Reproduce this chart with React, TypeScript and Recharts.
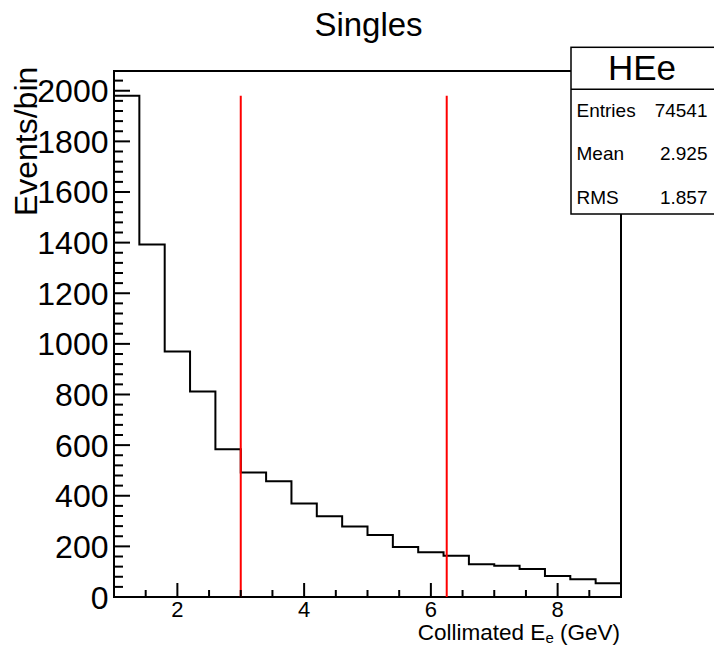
import React from 'react';
import {
  ComposedChart,
  Line,
  XAxis,
  YAxis,
  ReferenceLine,
  ReferenceArea,
} from 'recharts';

// histogram "HEe": 20 bins of 0.4 GeV from 1 to 9
const binEdges = [1.0, 1.4, 1.8, 2.2, 2.6, 3.0, 3.4, 3.8, 4.2, 4.6, 5.0, 5.4, 5.8, 6.2, 6.6, 7.0, 7.4, 7.8, 8.2, 8.6, 9.0];
const binCounts = [1980, 1393, 970, 812, 584, 492, 457, 369, 319, 279, 245, 198, 177, 163, 129, 123, 111, 83, 70, 54];

// selection cuts drawn in red
const cutPositions = [3.0, 6.25];
const cutHeight = 1980;

const yMajorTicks = [0, 200, 400, 600, 800, 1000, 1200, 1400, 1600, 1800, 2000];
const xMajorTicks = [2, 4, 6, 8];

const statsRows = [
  ['Entries', '74541'],
  ['Mean', '2.925'],
  ['RMS', '1.857'],
];

const WIDTH = 714;
const HEIGHT = 647;
const PLOT_LEFT = 114;
const PLOT_RIGHT = 621;
const PLOT_TOP = 71;
const PLOT_BOTTOM = 597;
const X_MIN = 1;
const X_MAX = 9;
const Y_MAX = 2078;
const FONT = '"Liberation Sans", Arial, Helvetica, sans-serif';

// minor ticks (every 40 on y, every 0.5 on x), majors get a label
const yTicks: number[] = [];
for (let v = 0; v <= 2040; v += 40) yTicks.push(v);
const xTicks: number[] = [];
for (let v = 1.5; v <= 8.5; v += 0.5) xTicks.push(v);

const histData = binEdges.map((edge, i) => ({
  x: edge,
  count: binCounts[Math.min(i, binCounts.length - 1)],
}));

const YTick = (props: any) => {
  const { y, payload } = props;
  const major = yMajorTicks.includes(payload.value);
  return (
    <g>
      <line
        x1={PLOT_LEFT}
        x2={PLOT_LEFT + (major ? 16 : 9)}
        y1={y}
        y2={y}
        stroke="#000"
        strokeWidth={2}
      />
      {major && (
        <text x={108.5} y={y + 11.5} textAnchor="end" fontSize={32} fontFamily={FONT} fill="#000">
          {payload.value}
        </text>
      )}
    </g>
  );
};

const XTick = (props: any) => {
  const { x, payload } = props;
  const major = xMajorTicks.includes(payload.value);
  return (
    <g>
      <line
        x1={x}
        x2={x}
        y1={PLOT_BOTTOM}
        y2={PLOT_BOTTOM - (major ? 14 : 7)}
        stroke="#000"
        strokeWidth={2}
      />
      {major && (
        <text x={x} y={616.5} textAnchor="middle" fontSize={22} fontFamily={FONT} fill="#000">
          {payload.value}
        </text>
      )}
    </g>
  );
};

export default function App() {
  return (
    <div style={{ position: 'absolute', left: 0, top: 0, width: WIDTH, height: HEIGHT, background: '#fff' }}>
      <ComposedChart
        width={WIDTH}
        height={HEIGHT}
        data={histData}
        margin={{ top: PLOT_TOP, right: WIDTH - PLOT_RIGHT, bottom: 20, left: PLOT_LEFT - 60 }}
      >
        <XAxis
          dataKey="x"
          type="number"
          domain={[X_MIN, X_MAX]}
          ticks={xTicks}
          interval={0}
          tick={XTick}
          tickLine={false}
          axisLine={false}
          height={30}
        />
        <YAxis
          type="number"
          domain={[0, Y_MAX]}
          ticks={yTicks}
          interval={0}
          tick={YTick}
          tickLine={false}
          axisLine={false}
          width={60}
        />
        <ReferenceArea
          x1={X_MIN}
          x2={X_MAX}
          y1={0}
          y2={Y_MAX}
          fill="none"
          fillOpacity={0}
          stroke="#000"
          strokeWidth={2}
        />
        <Line
          dataKey="count"
          type="stepAfter"
          stroke="#000"
          strokeWidth={2}
          dot={false}
          isAnimationActive={false}
        />
        {cutPositions.map((c) => (
          <ReferenceLine
            key={c}
            segment={[
              { x: c, y: 0 },
              { x: c, y: cutHeight },
            ]}
            stroke="#ff0000"
            strokeWidth={2}
          />
        ))}
      </ComposedChart>

      <svg
        width={WIDTH}
        height={HEIGHT}
        style={{ position: 'absolute', left: 0, top: 0, pointerEvents: 'none' }}
      >
        <text x={368.5} y={36} textAnchor="middle" fontSize={33} fontFamily={FONT} fill="#000">
          Singles
        </text>
        <text
          x={36.7}
          y={66.7}
          transform="rotate(-90, 36.7, 66.7)"
          textAnchor="end"
          fontSize={32}
          fontFamily={FONT}
          fill="#000"
        >
          Events/bin
        </text>
        <text x={620} y={639.5} textAnchor="end" fontSize={22.5} fontFamily={FONT} fill="#000">
          Collimated E
          <tspan fontSize={15} dy={3}>e</tspan>
          <tspan dy={-3}> (GeV)</tspan>
        </text>

        {/* stats box */}
        <rect x={571} y={47.3} width={WIDTH - 571 + 2} height={214 - 47.3} fill="#fff" stroke="#000" strokeWidth={1.5} />
        <line x1={571} x2={WIDTH} y1={89.3} y2={89.3} stroke="#000" strokeWidth={1.5} />
        <text x={642} y={80} textAnchor="middle" fontSize={35} fontFamily={FONT} fill="#000">
          HEe
        </text>
        {statsRows.map(([label, value], i) => (
          <g key={label}>
            <text x={576.5} y={116.7 + i * 43.7} fontSize={19} fontFamily={FONT} fill="#000">
              {label}
            </text>
            <text x={707.5} y={116.7 + i * 43.7} textAnchor="end" fontSize={19} fontFamily={FONT} fill="#000">
              {value}
            </text>
          </g>
        ))}
      </svg>
    </div>
  );
}
